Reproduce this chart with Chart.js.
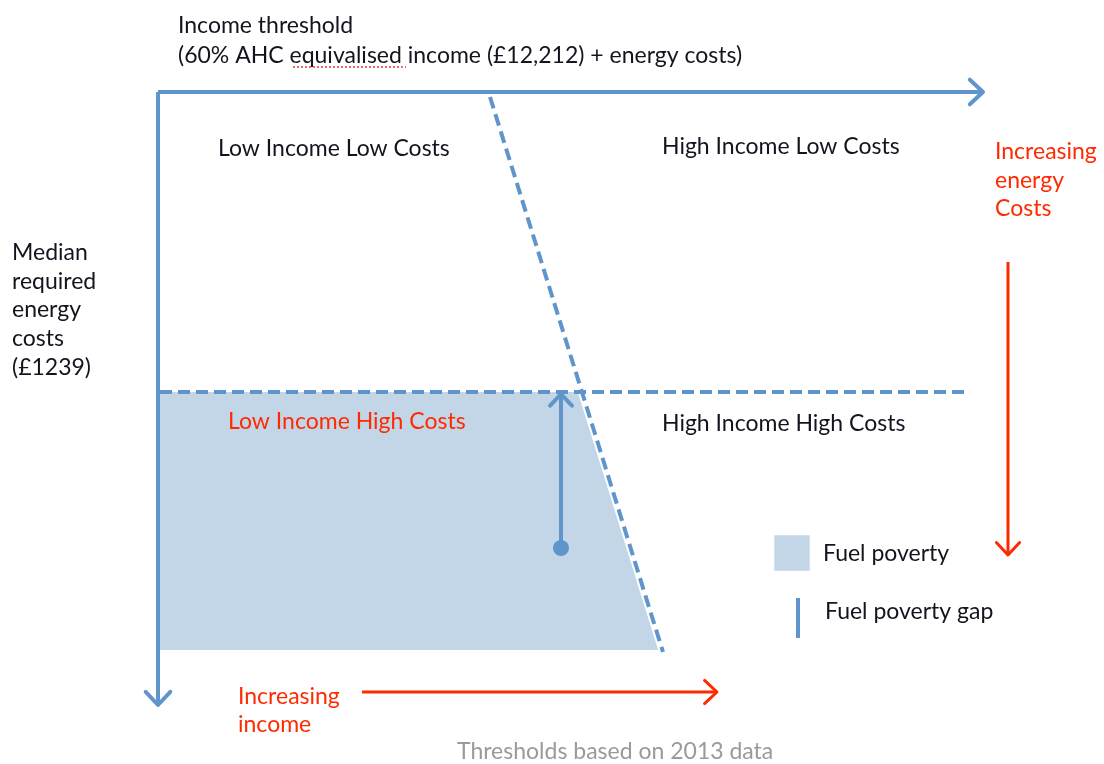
<!DOCTYPE html>
<html>
<head>
<meta charset="utf-8">
<script src="https://cdn.jsdelivr.net/npm/chart.js@4.4.1/dist/chart.umd.min.js"></script>
<style>
  html, body { margin: 0; padding: 0; background: #fff; }
  #wrap { width: 1104px; height: 764px; position: relative; }
</style>
</head>
<body>
<div id="wrap"><canvas id="grafico"></canvas></div>
<script>
// Diagram geometry (drawing units, x = income direction, y = costs direction)
const incomeAxis = [[158, 92], [983, 92]];
const costAxis = [[158, 92], [158, 705]];
const incomeThreshold = [[490, 97], [663, 652]];
const costThreshold = [[160, 392], [965, 392]];
const fuelPoverty = [[160, 392], [582, 392], [663, 650], [160, 650], [160, 392]];
const povertyGap = [[561, 548], [561, 394]];
const costArrow = [[1008, 262], [1008, 555]];
const incomeArrow = [[362, 692], [717, 692]];
const legendBox = [[792, 553]];
const legendGap = [[798, 598], [798, 638]];
const spellMark = [[293, 67], [406, 67]];

// Texts: [text, x, y, colour]
const labels = [
  ['Income threshold', 178, 26, '#141420'],
  ['(60% AHC equivalised income (£12,212) + energy costs)', 178, 56, '#141420'],
  ['Low Income Low Costs', 218, 149, '#141420'],
  ['High Income Low Costs', 662, 147, '#141420'],
  ['Increasing', 995, 152, '#ff2a00'],
  ['energy', 995, 181, '#ff2a00'],
  ['Costs', 995, 209, '#ff2a00'],
  ['Median', 12, 253, '#141420'],
  ['required', 12, 282, '#141420'],
  ['energy', 12, 310, '#141420'],
  ['costs', 12, 339, '#141420'],
  ['(£1239)', 12, 368, '#141420'],
  ['Low Income High Costs', 228, 422, '#ff2a00'],
  ['High Income High Costs', 662, 424, '#141420'],
  ['Fuel poverty', 823, 554, '#141420'],
  ['Fuel poverty gap', 825, 612, '#141420'],
  ['Increasing', 238, 697, '#ff2a00'],
  ['income', 238, 725, '#ff2a00'],
  ['Thresholds based on 2013 data', 457, 752, '#9a9a9a']
];

const pts = arr => arr.map(p => ({ x: p[0], y: p[1] }));
const blue = '#6095cb';
const red = '#ff2a00';

function linha(arr, cor, larg, extra) {
  return Object.assign({
    data: pts(arr), showLine: true, borderColor: cor, borderWidth: larg,
    pointRadius: 0, fill: false, order: 1
  }, extra || {});
}

// Arrow heads at the last point of datasets with "seta"
const setas = {
  id: 'setas',
  afterDatasetsDraw(chart) {
    const ctx = chart.ctx;
    chart.data.datasets.forEach((ds, i) => {
      if (!ds.seta) return;
      const el = chart.getDatasetMeta(i).data;
      const a = el[el.length - 2], b = el[el.length - 1];
      const ang = Math.atan2(b.y - a.y, b.x - a.x);
      const L = ds.seta;
      ctx.save();
      ctx.strokeStyle = ds.borderColor;
      ctx.lineWidth = ds.borderWidth;
      ctx.lineCap = 'round';
      ctx.lineJoin = 'round';
      ctx.beginPath();
      ctx.moveTo(b.x - L * Math.cos(ang - 0.75), b.y - L * Math.sin(ang - 0.75));
      ctx.lineTo(b.x, b.y);
      ctx.lineTo(b.x - L * Math.cos(ang + 0.75), b.y - L * Math.sin(ang + 0.75));
      ctx.stroke();
      ctx.restore();
    });
  }
};

// Texts
const textos = {
  id: 'textos',
  afterDraw(chart) {
    const ctx = chart.ctx, sx = chart.scales.x, sy = chart.scales.y;
    ctx.save();
    ctx.textBaseline = 'middle';
    labels.forEach(l => {
      ctx.font = '23px Lato';
      ctx.fillStyle = l[3];
      ctx.fillText(l[0], sx.getPixelForValue(l[1]), sy.getPixelForValue(l[2]));
    });
    ctx.restore();
  }
};

new Chart(document.getElementById('grafico'), {
  type: 'scatter',
  data: {
    datasets: [
      linha(fuelPoverty, 'rgba(0,0,0,0)', 0, { fill: 'shape', backgroundColor: '#c2d6e8', order: 10 }),
      linha(incomeThreshold, '#ffffff', 8, { order: 9 }),
      linha(incomeThreshold, blue, 4, { borderDash: [12, 6], order: 2 }),
      linha(costThreshold, blue, 4, { borderDash: [12, 6], order: 2 }),
      linha(incomeAxis, blue, 4, { seta: 18 }),
      linha(costAxis, blue, 4, { seta: 18 }),
      linha(povertyGap, blue, 4, { seta: 16, pointRadius: [8, 0], pointBackgroundColor: blue, pointBorderWidth: 0 }),
      linha(costArrow, red, 3, { seta: 17 }),
      linha(incomeArrow, red, 3, { seta: 17 }),
      linha(legendGap, blue, 4),
      linha(spellMark, '#e83a3a', 1.5, { borderDash: [2, 2] }),
      { data: pts(legendBox), pointStyle: 'rect', pointRadius: 25, backgroundColor: '#c2d6e8', borderWidth: 0, order: 1 }
    ]
  },
  options: {
    responsive: true,
    maintainAspectRatio: false,
    animation: false,
    layout: { padding: 0, autoPadding: false },
    scales: {
      x: { type: 'linear', min: 0, max: 1104, display: false },
      y: { type: 'linear', min: 0, max: 764, reverse: true, display: false }
    },
    plugins: { legend: { display: false }, tooltip: { enabled: false } }
  },
  plugins: [setas, textos]
});
</script>
</body>
</html>
